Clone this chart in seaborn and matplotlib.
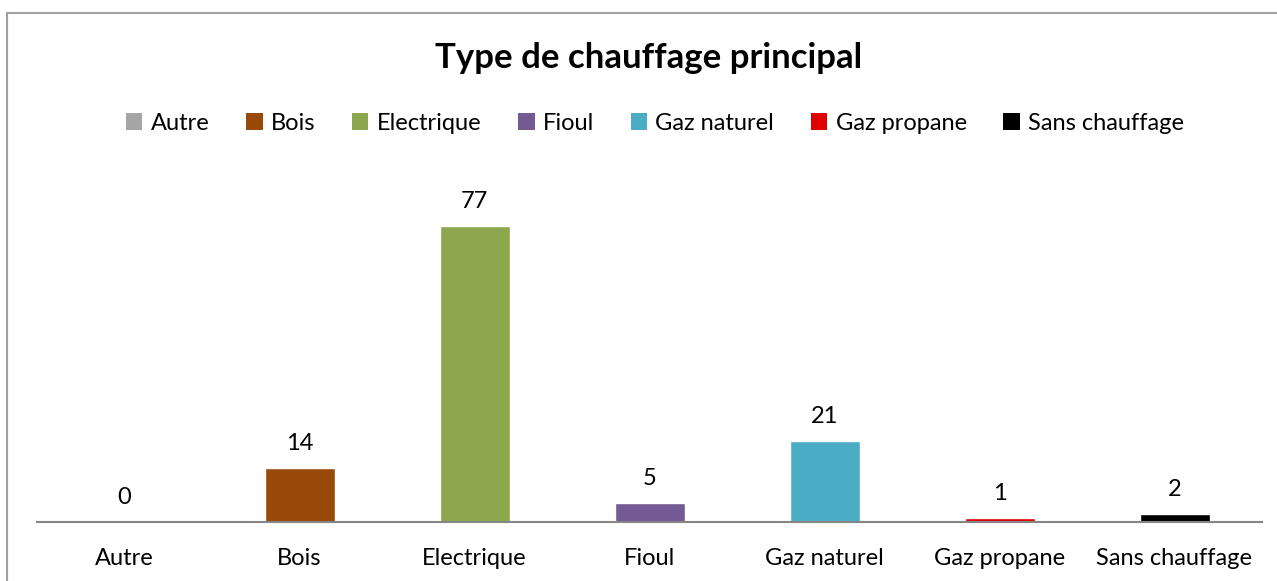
import seaborn as sns
import matplotlib.pyplot as plt
from matplotlib.patches import Patch, Rectangle

# Data
categories = ['Autre', 'Bois', 'Electrique', 'Fioul', 'Gaz naturel', 'Gaz propane', 'Sans chauffage']
values = [0, 14, 77, 5, 21, 1, 2]
colors = ['#A5A5A5', '#984807', '#8CA74E', '#735A92', '#4BACC6', '#E00000', '#000000']

sns.set_style("white")
plt.rcParams['font.family'] = ['Lato', 'DejaVu Sans']

fig = plt.figure(figsize=(12.77, 5.81), dpi=100)
# plot area in pixels: x 37..1262, baseline at y=522
ax = fig.add_axes([37 / 1277, (581 - 522) / 581, 1225 / 1277, 346 / 581])

sns.barplot(x=categories, y=values, hue=categories, palette=colors,
            width=0.4, saturation=1, legend=False, ax=ax)

for cont in ax.containers:
    ax.bar_label(cont, padding=10, fontsize=17, color='#000000')

ax.set_xlim(-0.5, 6.5)
ax.set_ylim(0, 90)
ax.set_yticks([])
ax.set_xlabel('')
ax.set_ylabel('')
for s in ['top', 'left', 'right']:
    ax.spines[s].set_visible(False)
ax.spines['bottom'].set_color('#868686')
ax.spines['bottom'].set_linewidth(1.5)
ax.tick_params(axis='x', length=0, pad=19, labelsize=17, labelcolor='#000000')

# title and legend
fig.text(649 / 1277, 1 - 58 / 581, 'Type de chauffage principal',
         ha='center', va='center', fontsize=25, fontweight='bold', color='#000000')
handles = [Patch(facecolor=c, edgecolor='none', label=l) for c, l in zip(colors, categories)]
fig.legend(handles=handles, loc='center', bbox_to_anchor=(655 / 1277, 1 - 123 / 581),
           ncol=7, frameon=False, fontsize=17, handlelength=0.7, handleheight=0.7,
           handletextpad=0.35, columnspacing=1.55, labelcolor='#000000')

# chart frame
fig.patches.append(Rectangle((7 / 1277, -0.1), 1.2, 1 - 13 / 581 + 0.1,
                             transform=fig.transFigure, fill=False,
                             edgecolor='#A0A0A0', linewidth=1.5))

plt.savefig('out.png', dpi=100)
